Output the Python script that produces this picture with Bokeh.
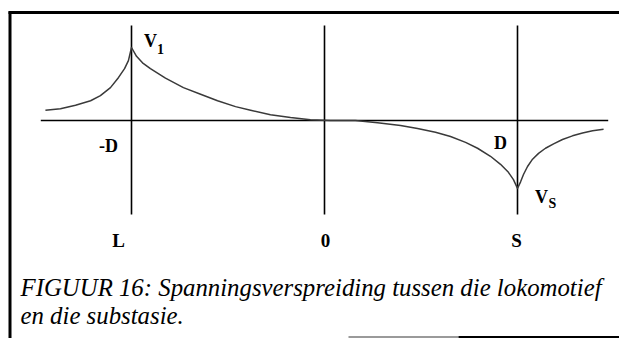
from bokeh.plotting import figure
from bokeh.models import ColumnDataSource, Range1d
from bokeh.embed import file_html
from bokeh.resources import INLINE
from bokeh.core.properties import value

# Position along the line, in % of the distance from the midpoint (0) to L or S
distance = [-144.6, -136.8, -129, -121.2, -116.1, -110.9, -106.7, -103.6, -101.6, -100,
            -97.4, -94.3, -90.2, -82.4, -73.1, -64.2, -55.4, -46.1, -38.3, -28, -17.6, -7.3, 3.1, 16,
            27.5, 39.4, 48.2, 57.5, 65.3, 73.1, 79.3, 86, 91.2, 95.3, 97.9, 100,
            101.6, 103.1, 105.2, 107.8, 110.9, 114.5, 118.7, 123.3, 128.5, 133.7, 138.9, 144.6]
# Rail voltage relative to the locomotive voltage V1
voltage = [0.14, 0.16, 0.21, 0.27, 0.34, 0.45, 0.59, 0.71, 0.82, 1.00,
           0.88, 0.79, 0.71, 0.58, 0.45, 0.36, 0.27, 0.19, 0.14, 0.08, 0.04, 0.01, 0.0, 0.0,
           -0.03, -0.07, -0.11, -0.16, -0.22, -0.30, -0.38, -0.49, -0.60, -0.71, -0.81, -0.93,
           -0.84, -0.74, -0.63, -0.53, -0.45, -0.38, -0.32, -0.26, -0.21, -0.17, -0.14, -0.12]

# Reference positions: locomotive, midpoint, substation
station_x = [-100, 0, 100]
station_labels = ["L", "0", "S"]
axis_extent = [-147, 147]

caption_lines = ["FIGUUR 16: Spanningsverspreiding tussen die lokomotief",
                 "en die substasie."]

W, H = 619, 338
PX_PER_X, X0_PX = 1.93, 324.0
PX_PER_V, V0_PX = 73.0, 120.0


def dx(px):
    return (px - X0_PX) / PX_PER_X


def dy(py):
    return (V0_PX - py) / PX_PER_V


p = figure(width=W, height=H, output_backend="svg", toolbar_location=None,
           x_axis_type=None, y_axis_type=None, min_border=0,
           x_range=Range1d(dx(0), dx(W)), y_range=Range1d(dy(H), dy(0)))
p.grid.visible = False
p.outline_line_color = None
p.background_fill_color = "white"
p.border_fill_color = "white"

# page frame: top rule, left rule, partial bottom rule
p.segment(x0=[dx(8)], y0=[dy(12)], x1=[dx(619)], y1=[dy(12)], line_color="black", line_width=3)
p.segment(x0=[dx(9.5)], y0=[dy(11)], x1=[dx(9.5)], y1=[dy(338)], line_color="black", line_width=3)
p.segment(x0=[dx(348)], y0=[dy(336.5)], x1=[dx(458)], y1=[dy(336.5)], line_color="#9a9a9a", line_width=2)
p.segment(x0=[dx(458)], y0=[dy(336.5)], x1=[dx(619)], y1=[dy(336.5)], line_color="black", line_width=2)

# distance axis
p.segment(x0=[axis_extent[0]], y0=[0], x1=[axis_extent[1]], y1=[0], line_color="black", line_width=1.5)

# vertical markers at L, 0 and S
p.segment(x0=station_x, y0=[dy(25)] * 3, x1=station_x, y1=[dy(214)] * 3,
          line_color="black", line_width=1.6)

# voltage distribution
src = ColumnDataSource(dict(x=distance, v=voltage))
p.line("x", "v", source=src, line_color="#3a3a3a", line_width=1.5, line_join="round")

serif = value("Liberation Serif")

# station labels below the markers
p.text(x=station_x, y=[dy(240)] * 3, text=station_labels,
       x_offset=[-13, 1, -1],
       text_font=serif, text_font_style="bold", text_font_size="19px",
       text_align="center", text_baseline="middle", text_color="black")

# +/- D labels
p.text(x=[dx(108), dx(500)], y=[dy(145), dy(142)], text=["-D", "D"],
       text_font=serif, text_font_style="bold", text_font_size="18px",
       text_align="center", text_baseline="middle", text_color="black")

# V1 and Vs labels with subscripts
p.text(x=[dx(150), dx(541)], y=[dy(40), dy(196)], text=["V", "V"],
       text_font=serif, text_font_style="bold", text_font_size="18px",
       text_align="center", text_baseline="middle", text_color="black")
p.text(x=[dx(160), dx(552)], y=[dy(48), dy(203)], text=["1", "S"],
       text_font=serif, text_font_style="bold", text_font_size="14px",
       text_align="center", text_baseline="middle", text_color="black")

# caption
p.text(x=[dx(20), dx(20)], y=[dy(287), dy(315)], text=caption_lines,
       text_font=serif, text_font_style="italic", text_font_size="24.8px",
       text_align="left", text_baseline="alphabetic", text_color="black")

open("out.html", "w").write(file_html(p, INLINE))
